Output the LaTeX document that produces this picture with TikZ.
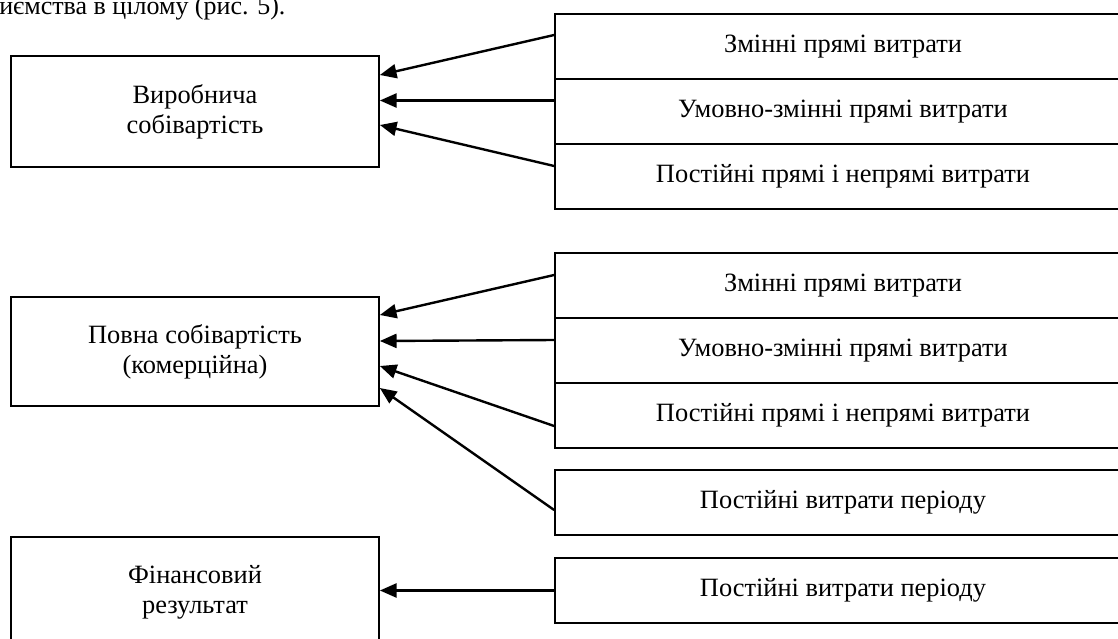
\documentclass[tikz,border=0pt]{standalone}
\usepackage{fontspec}
\setmainfont{Liberation Serif}
\usetikzlibrary{arrows.meta}
\newcommand{\lblfont}{\fontsize{19.8}{22.5}\selectfont}
\begin{document}
\begin{tikzpicture}[x=0.75pt,y=-0.75pt,
  leftbox/.style={draw, line width=1.3pt, minimum width=276pt, minimum height=83pt,
    inner sep=0pt, align=center, font=\lblfont},
  rowbox/.style={draw, line width=1.3pt, minimum width=432pt, minimum height=48.75pt,
    inner sep=0pt, align=center, font=\lblfont},
  arr/.style={-{Triangle[length=12.5pt,width=10.5pt]}, line width=1.8pt}]
\useasboundingbox (0,0) rectangle (1118,639);

\node[anchor=base west, inner sep=0pt, font=\fontsize{19.5}{23}\selectfont] (toptext) at (-1,15) {иємства в цілому (рис. 5).};

% left boxes
\node[leftbox] (b1) at (195,111.5) {Виробнича\\собівартість};
\node[leftbox, minimum height=81.75pt] (b2) at (195,351.5) {Повна собівартість\\(комерційна)};
\node[leftbox, minimum height=82.5pt] (b3) at (195,592) {Фінансовий\\результат};

% right stacks
\node[rowbox] (r11) at (843,46.5) {Змінні прямі витрати};
\node[rowbox] (r12) at (843,111.5) {Умовно-змінні прямі витрати};
\node[rowbox] (r13) at (843,176.5) {Постійні прямі і непрямі витрати};

\node[rowbox] (r21) at (843,285.5) {Змінні прямі витрати};
\node[rowbox] (r22) at (843,350.5) {Умовно-змінні прямі витрати};
\node[rowbox] (r23) at (843,415.5) {Постійні прямі і непрямі витрати};
\node[rowbox] (r24) at (843,502.5) {Постійні витрати періоду};

\node[rowbox] (r3) at (843,590.5) {Постійні витрати періоду};

% arrows
\draw[arr] ([shift={(0,-11.5)}]r11.west) -- ([shift={(0,-36.5)}]b1.east);
\draw[arr] ([shift={(0,-11)}]r12.west) -- ([shift={(0,-11)}]b1.east);
\draw[arr] ([shift={(0,-10.5)}]r13.west) -- ([shift={(0,13.5)}]b1.east);

\draw[arr] ([shift={(0,-10.5)}]r21.west) -- ([shift={(0,-36.5)}]b2.east);
\draw[arr] ([shift={(0,-10.5)}]r22.west) -- ([shift={(0,-10.5)}]b2.east);
\draw[arr] ([shift={(0,10.5)}]r23.west) -- ([shift={(0,14.5)}]b2.east);
\draw[arr] ([shift={(0,7.5)}]r24.west) -- ([shift={(0,36.5)}]b2.east);

\draw[arr] (r3.west) -- (r3.west -| b3.east);
\end{tikzpicture}
\end{document}
